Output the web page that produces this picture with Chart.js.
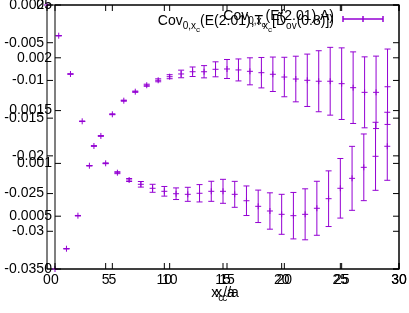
<!DOCTYPE html>
<html>
<head>
<meta charset="utf-8">
<script src="https://cdn.jsdelivr.net/npm/chart.js@4.4.1/dist/chart.umd.min.js"></script>
<style>
  html, body { margin: 0; padding: 0; background: #fff; }
  #wrap { position: relative; width: 409px; height: 313px; }
  #wrap canvas { position: absolute; left: 0; top: 0; }
</style>
</head>
<body>
<div id="wrap">
  <canvas id="chartA" width="409" height="313"></canvas>
  <canvas id="chartB" width="409" height="313"></canvas>
</div>
<script>
// x_c / a
const xc = [0, 1, 2, 3, 4, 5, 6, 7, 8, 9, 10, 11, 12, 13, 14, 15, 16, 17, 18, 19, 20, 21, 22, 23, 24, 25, 26, 27, 28, 29];

// first plot (left axis 0 .. -0.035)
const covA = [0, -0.00407, -0.00915, -0.01542, -0.01869, -0.02099, -0.02223, -0.02320, -0.02377, -0.02430,
  -0.02470, -0.02502, -0.02510, -0.02496, -0.02470, -0.02470, -0.02510, -0.02595, -0.02669, -0.02731,
  -0.02775, -0.02793, -0.02775, -0.02695, -0.02568, -0.02430, -0.02298, -0.02152, -0.02006, -0.01873];
const errA = [0, 0.00002, 0.00002, 0.00003, 0.00004, 0.00005, 0.00013, 0.0002, 0.00037, 0.00053,
  0.00064, 0.00077, 0.00093, 0.00115, 0.00133, 0.00159, 0.00172, 0.00196, 0.00215, 0.00241,
  0.00265, 0.00308, 0.00338, 0.00358, 0.00369, 0.00395, 0.00424, 0.00442, 0.00451, 0.00451];

// second plot (left axis 0 .. 0.0025), drawn on top of the first
const covB = [0, 0.000192, 0.000505, 0.000978, 0.001260, 0.001465, 0.001594, 0.001679, 0.001740, 0.001787,
  0.001821, 0.001847, 0.001868, 0.001868, 0.001891, 0.001894, 0.001885, 0.001872, 0.001859, 0.001844,
  0.001818, 0.001799, 0.001787, 0.001778, 0.001778, 0.001755, 0.001717, 0.001673, 0.001673, 0.001726];
const errB = [0, 0.000001, 0.000002, 0.000002, 0.000003, 0.000004, 0.000005, 0.000006, 0.00001, 0.000014,
  0.000019, 0.000036, 0.000045, 0.000058, 0.000071, 0.00009, 0.000104, 0.000128, 0.000144, 0.000163,
  0.000187, 0.000216, 0.000248, 0.000289, 0.000321, 0.000339, 0.000339, 0.000336, 0.000343, 0.000357];

const xTicks = [0, 5, 10, 15, 20, 25, 30];
const yTicksA = [0, -0.005, -0.01, -0.015, -0.02, -0.025, -0.03, -0.035];
const yTicksB = [0, 0.0005, 0.001, 0.0015, 0.002, 0.0025];

// key texts: [text, level] with level 1/2 = subscript depth
const keyA = [['Cov', 0], ['0,x', 1], ['c', 2], ['(E(2.01),T', 0], ['x', 1], ['c', 2], ['[D\u0303', 0], ['ov', 1], ['(0.8)])', 0]];
const keyB = [['Cov', 0], ['0,x', 1], ['c', 2], ['(E(2.01),A)', 0]];
const xTitle = [['x', 0], ['c', 1], ['/a', 0]];

const purple = '#9400d3';
const FONT = '"Liberation Sans", Arial, sans-serif';

function drawRich(ctx, parts, x, y, align) {
  const sizes = [14, 10, 8];
  const drops = [0, 4, 7];
  let w = 0;
  parts.forEach(p => { ctx.font = sizes[p[1]] + 'px ' + FONT; w += ctx.measureText(p[0]).width; });
  let cx = align === 'right' ? x - w : (align === 'center' ? x - w / 2 : x);
  ctx.fillStyle = '#000';
  ctx.textAlign = 'left';
  ctx.textBaseline = 'alphabetic';
  parts.forEach(p => {
    ctx.font = sizes[p[1]] + 'px ' + FONT;
    ctx.fillText(p[0], cx, y + drops[p[1]]);
    cx += ctx.measureText(p[0]).width;
  });
}

// gnuplot style frame, inward ticks, error bars and key
function gnuPlugin(vals, errs, key, keyY) {
  return {
    id: 'gnu',
    afterDatasetsDraw(chart) {
      const ctx = chart.ctx, a = chart.chartArea;
      const xs = chart.scales.x, ys = chart.scales.y;
      ctx.save();
      ctx.lineWidth = 1;
      ctx.strokeStyle = purple;
      ctx.beginPath();
      vals.forEach((v, i) => {
        if (!errs[i]) return;
        const px = xs.getPixelForValue(xc[i]);
        const t = ys.getPixelForValue(v + errs[i]);
        const b = ys.getPixelForValue(v - errs[i]);
        ctx.moveTo(px, t); ctx.lineTo(px, b);
        ctx.moveTo(px - 3, t); ctx.lineTo(px + 3, t);
        ctx.moveTo(px - 3, b); ctx.lineTo(px + 3, b);
      });
      ctx.stroke();

      // key sample
      ctx.beginPath();
      ctx.moveTo(343, 19); ctx.lineTo(383, 19);
      ctx.moveTo(343, 16); ctx.lineTo(343, 22);
      ctx.moveTo(383, 16); ctx.lineTo(383, 22);
      ctx.moveTo(363, 16); ctx.lineTo(363, 22);
      ctx.stroke();

      ctx.strokeStyle = '#000';
      ctx.strokeRect(a.left, a.top, a.right - a.left, a.bottom - a.top);
      ctx.beginPath();
      ys.ticks.forEach(tk => {
        const py = ys.getPixelForValue(tk.value);
        ctx.moveTo(a.left, py); ctx.lineTo(a.left + 6, py);
        ctx.moveTo(a.right, py); ctx.lineTo(a.right - 6, py);
      });
      xs.ticks.forEach(tk => {
        const px = xs.getPixelForValue(tk.value);
        ctx.moveTo(px, a.bottom); ctx.lineTo(px, a.bottom - 6);
        ctx.moveTo(px, a.top); ctx.lineTo(px, a.top + 6);
      });
      ctx.stroke();

      drawRich(ctx, key, 334, keyY, 'right');
      drawRich(ctx, xTitle, (a.left + a.right) / 2, 297, 'center');
      ctx.restore();
    }
  };
}

function makeChart(id, vals, errs, yTicks, yMin, yMax, axisW, key, keyY) {
  const pts = xc.map((x, i) => ({ x: x, y: vals[i] }));
  return new Chart(document.getElementById(id), {
    type: 'scatter',
    data: {
      datasets: [{
        data: pts,
        pointStyle: 'cross',
        pointRadius: 3,
        pointHoverRadius: 3,
        borderColor: purple,
        backgroundColor: purple,
        borderWidth: 1,
        clip: false
      }]
    },
    options: {
      responsive: false,
      animation: false,
      events: [],
      layout: { padding: { top: 5, right: 10, left: 0, bottom: 0 } },
      plugins: { legend: { display: false }, tooltip: { enabled: false } },
      scales: {
        x: {
          type: 'linear', min: 0, max: 30,
          grid: { display: false, drawTicks: false },
          border: { display: false },
          ticks: { color: '#000', padding: 3, maxRotation: 0, font: { family: FONT, size: 14 } },
          afterBuildTicks: s => { s.ticks = xTicks.map(v => ({ value: v })); },
          afterFit: s => { s.height = 44; s.paddingLeft = 0; s.paddingRight = 0; }
        },
        y: {
          type: 'linear', min: yMin, max: yMax,
          grid: { display: false, drawTicks: false },
          border: { display: false },
          ticks: {
            color: '#000', padding: 3, font: { family: FONT, size: 14 },
            callback: v => String(parseFloat(v.toFixed(4)))
          },
          afterBuildTicks: s => { s.ticks = yTicks.map(v => ({ value: v })); },
          afterFit: s => { s.width = axisW; s.paddingTop = 0; s.paddingBottom = 0; }
        }
      }
    },
    plugins: [gnuPlugin(vals, errs, key, keyY)]
  });
}

makeChart('chartA', covA, errA, yTicksA, -0.035, 0, 47, keyA, 25);
makeChart('chartB', covB, errB, yTicksB, 0, 0.0025, 55, keyB, 20);
</script>
</body>
</html>
